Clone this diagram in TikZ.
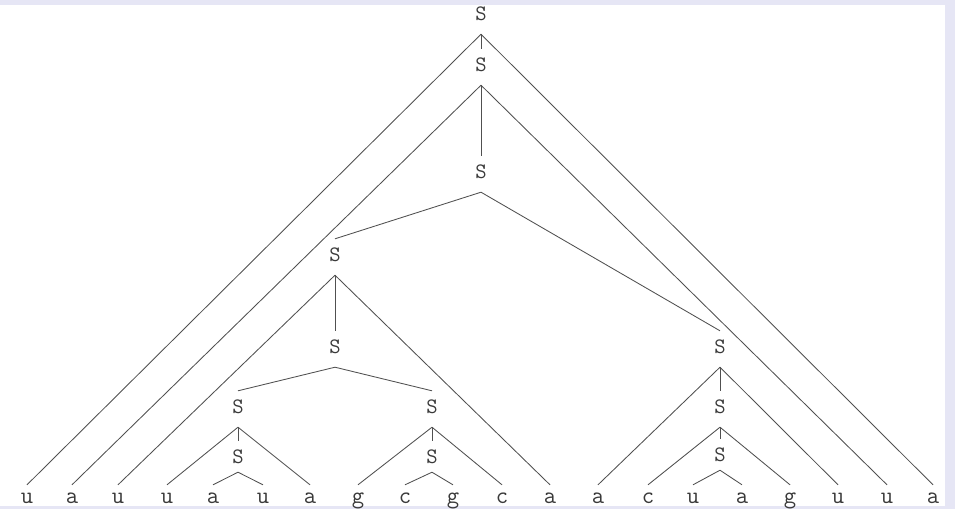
\documentclass[tikz,border=0pt]{standalone}
\usepackage{fontspec}
\definecolor{lav}{HTML}{E6E6F5}
\definecolor{edgecol}{HTML}{505050}
\definecolor{txtcol}{HTML}{3A3A3A}
\begin{document}
\begin{tikzpicture}[x=1pt,y=-1pt,
  snode/.style={font=\fontsize{22}{22}\selectfont\ttfamily, text=txtcol, inner sep=0pt, text height=22.5pt, text depth=13.5pt, anchor=base},
  slow/.style={snode, text depth=8.5pt},
  leaf/.style={font=\fontsize{24}{24}\selectfont\ttfamily, text=txtcol, inner sep=0pt, text height=18pt, text depth=2pt, anchor=base},
  edge/.style={draw=edgecol, line width=0.85pt}]
\fill[lav] (0,0) rectangle (955,509);
\fill[white] (0,5) rectangle (945,506);
\useasboundingbox (0,0) rectangle (955,509);
% S nodes
\node[snode] (r)   at (481,20.5)  {S};
\node[snode] (s2)  at (481,71.5)  {S};
\node[snode] (s3)  at (481,178.5) {S};
\node[snode] (s4)  at (335,261.5) {S};
\node[snode] (s5)  at (335,353.5) {S};
\node[snode] (s6)  at (238,413.5) {S};
\node[slow]  (s7)  at (238,463.5) {S};
\node[snode] (s8)  at (432,413.5) {S};
\node[slow]  (s9)  at (432,463.5) {S};
\node[snode] (s10) at (720,353.5) {S};
\node[snode] (s11) at (720,413.5) {S};
\node[slow]  (s12) at (720,461.5) {S};
% leaves
\foreach \i/\x/\t in {0/27/u,1/72/a,2/118/u,3/167/u,4/213/a,5/263/u,6/310/a,7/358/g,8/405/c,9/453/g,10/502/c,11/550/a,12/598/a,13/648/c,14/693/u,15/742/a,16/790/g,17/838/u,18/887/u,19/933/a}
  \node[leaf] (l\i) at (\x,503) {\t};
% edges
\draw[edge] (r.south) -- (l0.north);
\draw[edge] (r.south) -- (l19.north);
\draw[edge] (r.south) -- (s2.north);
\draw[edge] (s2.south) -- (l1.north);
\draw[edge] (s2.south) -- (l18.north);
\draw[edge] (s2.south) -- (s3.north);
\draw[edge] (s3.south) -- (s4.north);
\draw[edge] (s3.south) -- (s10.north);
\draw[edge] (s4.south) -- (l2.north);
\draw[edge] (s4.south) -- (l11.north);
\draw[edge] (s4.south) -- (s5.north);
\draw[edge] (s5.south) -- (s6.north);
\draw[edge] (s5.south) -- (s8.north);
\draw[edge] (s6.south) -- (l3.north);
\draw[edge] (s6.south) -- (l6.north);
\draw[edge] (s6.south) -- (s7.north);
\draw[edge] (s7.south) -- (l4.north);
\draw[edge] (s7.south) -- (l5.north);
\draw[edge] (s8.south) -- (l7.north);
\draw[edge] (s8.south) -- (l10.north);
\draw[edge] (s8.south) -- (s9.north);
\draw[edge] (s9.south) -- (l8.north);
\draw[edge] (s9.south) -- (l9.north);
\draw[edge] (s10.south) -- (l12.north);
\draw[edge] (s10.south) -- (l17.north);
\draw[edge] (s10.south) -- (s11.north);
\draw[edge] (s11.south) -- (l13.north);
\draw[edge] (s11.south) -- (l16.north);
\draw[edge] (s11.south) -- (s12.north);
\draw[edge] (s12.south) -- (l14.north);
\draw[edge] (s12.south) -- (l15.north);
\end{tikzpicture}
\end{document}
